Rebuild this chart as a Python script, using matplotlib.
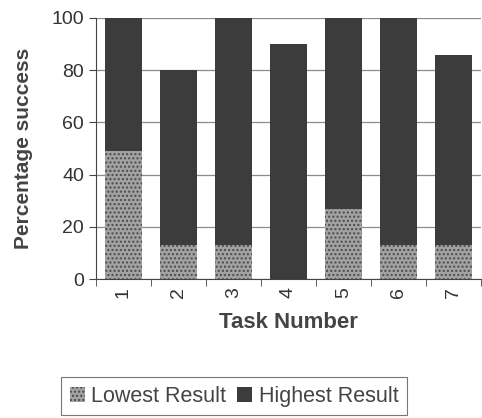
import numpy as np
import matplotlib.pyplot as plt

plt.rcParams['font.family'] = ['Liberation Sans', 'DejaVu Sans']

# Data
tasks = ["1", "2", "3", "4", "5", "6", "7"]
lowest = [49, 13, 13, 0, 27, 13, 13]
highest = [100, 80, 100, 90, 100, 100, 86]

# Highest result drawn as the remainder on top of the lowest one
upper = [h - l for h, l in zip(highest, lowest)]

fig = plt.figure(figsize=(4.82, 4.18), dpi=100)
ax = fig.add_axes([0.199, 0.3325, 0.799, 0.6245])

x = np.arange(len(tasks))
ax.bar(x, lowest, width=0.67, color="#a2a2a2", edgecolor="#4a4a4a",
       hatch="....", linewidth=0, label="Lowest Result", zorder=3)
ax.bar(x, upper, bottom=lowest, width=0.67, color="#3c3c3c",
       linewidth=0, label="Highest Result", zorder=3)

ax.set_xlim(-0.5, len(tasks) - 0.5)
ax.set_ylim(0, 100)
ax.set_yticks([0, 20, 40, 60, 80, 100])
ax.yaxis.grid(True, color="#8a8a8a", linewidth=0.9, zorder=0)

ax.set_xticks(x)
ax.set_xticklabels(tasks, rotation=90, fontsize=14, color="#333333")
ax.set_xticks(np.arange(len(tasks) + 1) - 0.5, minor=True)
ax.tick_params(axis="x", which="major", length=0, pad=6)
ax.tick_params(axis="x", which="minor", length=5, color="#444444")
ax.tick_params(axis="y", labelsize=14, labelcolor="#333333", length=5, color="#444444")

for s in ["top", "right"]:
    ax.spines[s].set_visible(False)
ax.spines["left"].set_color("#444444")
ax.spines["bottom"].set_color("#444444")

ax.set_xlabel("Task Number", fontsize=16, fontweight="bold", color="#444444", labelpad=10)
ax.set_ylabel("Percentage success", fontsize=15, fontweight="bold", color="#444444", labelpad=13)

leg = fig.legend(loc="upper left", bbox_to_anchor=(0.127, 0.098), ncol=2,
                 fontsize=15.5, frameon=True, fancybox=False, handlelength=0.7,
                 handleheight=0.7, handletextpad=0.3, columnspacing=0.5,
                 borderpad=0.4, borderaxespad=0, labelcolor="#444444")
leg.get_frame().set_edgecolor("#555555")
leg.get_frame().set_linewidth(0.8)

fig.savefig("out.png", dpi=100)
